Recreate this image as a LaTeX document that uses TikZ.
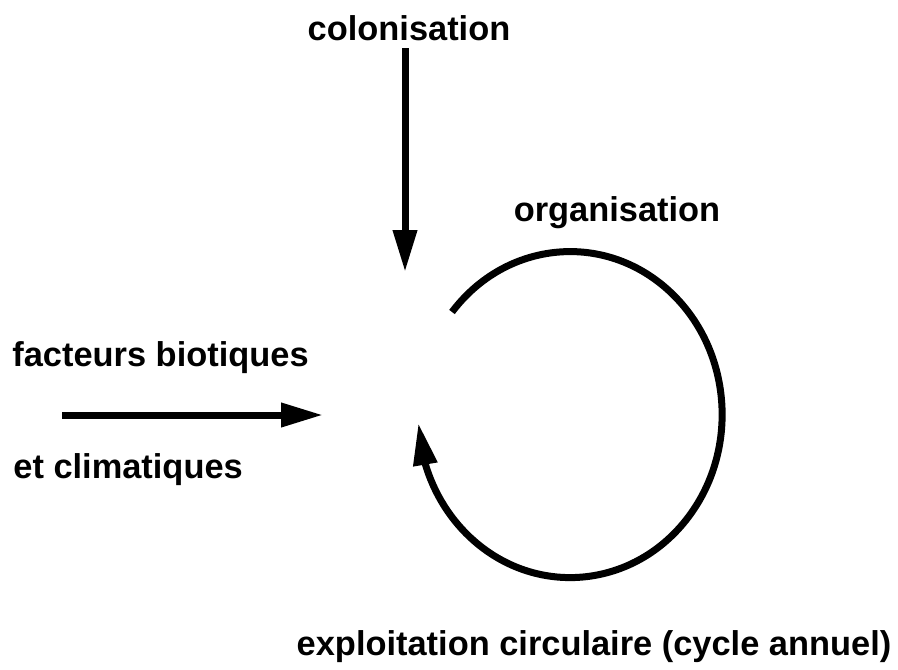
\documentclass[tikz,border=0pt]{standalone}
\usepackage{fontspec}
\setmainfont{Liberation Sans}
\usetikzlibrary{arrows.meta, bending}
\tikzset{
  lbl/.style={
    anchor=base, inner sep=0pt,
    font=\fontsize{17.2}{20}\selectfont\bfseries
  },
  fleche/.style={
    line width=3.5pt,
    -{Triangle[length=21pt, width=11.5pt]}
  }
}

\begin{document}
\begin{tikzpicture}[x=0.5pt, y=-0.5pt]
  \useasboundingbox (0,0) rectangle (898,669);
  % textes
  \node[lbl] (colon) at (409,40) {colonisation};
  \node[lbl] (orga) at (617,221) {organisation};
  \node[lbl, anchor=base west] (facteurs) at (12,366) {facteurs biotiques};
  \node[lbl, anchor=base west] (climat) at (13,478) {et climatiques};
  \node[lbl] (exploit) at (594,655) {exploitation circulaire (cycle annuel)};
  % points libres des fleches
  \coordinate (colondeb) at (405,48);
  \coordinate (colonfin) at (405,272);
  \coordinate (factdeb) at (62,415);
  \coordinate (factfin) at (323,415);
  \coordinate (cycledeb) at (452,312);
  % fleches
  \draw[fleche] (colondeb) -- (colonfin);
  \draw[fleche] (factdeb) -- (factfin);
  \draw[fleche] (cycledeb) arc[start angle=141, end angle=-177, x radius=76pt, y radius=81.5pt];
\end{tikzpicture}
\end{document}
